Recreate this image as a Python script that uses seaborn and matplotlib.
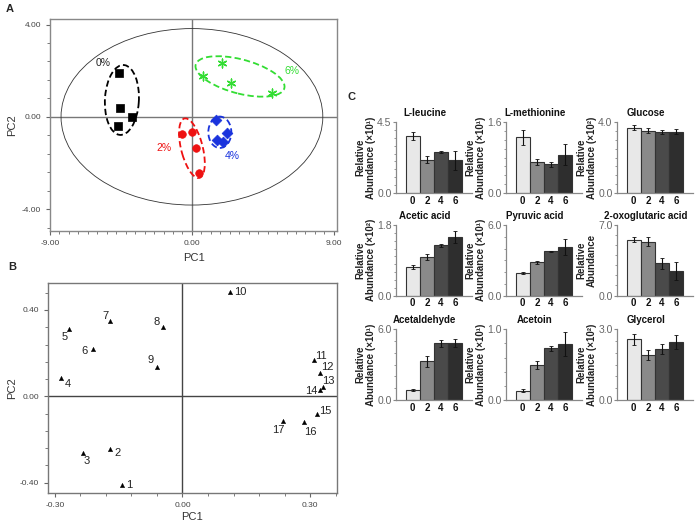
import numpy as np
import pandas as pd
import matplotlib
matplotlib.use('Agg')
import matplotlib.pyplot as plt
import seaborn as sns
from matplotlib.patches import Ellipse
from matplotlib.ticker import FixedLocator, MultipleLocator

# ---------------- Panel A data (PCA scores) ----------------
a_groups = ['0%', '2%', '4%', '6%']
a_group = ['0%'] * 4 + ['2%'] * 4 + ['4%'] * 4 + ['6%'] * 4
a_pc1 = [-4.65, -4.59, -3.80, -4.71,
         -0.62, -0.02, 0.27, 0.45,
         1.55, 2.20, 1.60, 2.00,
         0.70, 1.93, 2.50, 5.08]
a_pc2 = [1.91, 0.37, 0.00, -0.40,
         -0.75, -0.66, -1.37, -2.43,
         -0.15, -0.72, -1.00, -1.10,
         1.79, 2.35, 1.47, 1.03]
a_colors = {'0%': '#000000', '2%': '#ee1111', '4%': '#1a33dd', '6%': '#33dd33'}

# ---------------- Panel B data (loadings) ----------------
b_labels = [str(i) for i in range(1, 18)]
b_pc1 = [-0.141, -0.170, -0.234, -0.285, -0.267, -0.211, -0.170, -0.046, -0.060,
         0.112, 0.308, 0.322, 0.330, 0.322, 0.316, 0.286, 0.235]
b_pc2 = [-0.409, -0.242, -0.262, 0.083, 0.312, 0.219, 0.351, 0.321, 0.134,
         0.482, 0.167, 0.108, 0.044, 0.031, -0.082, -0.120, -0.116]

# ---------------- Panel C data (bar charts) ----------------
conc = ['0', '2', '4', '6']
metabolites = ['L-leucine', 'L-methionine', 'Glucose',
               'Acetic acid', 'Pyruvic acid', '2-oxoglutaric acid',
               'Acetaldehyde', 'Acetoin', 'Glycerol']
y_max = [4.5, 1.6, 4.0, 1.8, 6.0, 7.0, 6.0, 1.0, 3.0]
exponents = ['¹', '¹', '²', '²', '¹', '', '¹', '¹', '²']
leucine = [3.62, 2.12, 2.59, 2.08]
leucine_err = [0.28, 0.22, 0.05, 0.60]
methionine = [1.26, 0.70, 0.65, 0.86]
methionine_err = [0.17, 0.06, 0.06, 0.24]
glucose = [3.70, 3.53, 3.44, 3.46]
glucose_err = [0.15, 0.15, 0.10, 0.15]
acetic = [0.73, 0.98, 1.28, 1.49]
acetic_err = [0.05, 0.07, 0.04, 0.15]
pyruvic = [1.92, 2.82, 3.75, 4.11]
pyruvic_err = [0.05, 0.15, 0.05, 0.70]
oxoglutaric = [5.52, 5.36, 3.22, 2.47]
oxoglutaric_err = [0.25, 0.45, 0.55, 0.90]
acetaldehyde = [0.85, 3.26, 4.81, 4.81]
acetaldehyde_err = [0.08, 0.45, 0.30, 0.35]
acetoin = [0.13, 0.49, 0.73, 0.79]
acetoin_err = [0.02, 0.06, 0.04, 0.17]
glycerol = [2.57, 1.91, 2.16, 2.47]
glycerol_err = [0.22, 0.20, 0.20, 0.30]
c_values = [leucine, methionine, glucose, acetic, pyruvic, oxoglutaric,
            acetaldehyde, acetoin, glycerol]
c_errors = [leucine_err, methionine_err, glucose_err, acetic_err, pyruvic_err,
            oxoglutaric_err, acetaldehyde_err, acetoin_err, glycerol_err]
bar_colors = ['#e8e8e8', '#8a8a8a', '#4a4a4a', '#2e2e2e']

# ---------------- Figure ----------------
sns.set_style('white')
plt.rcParams['font.family'] = ['Liberation Sans', 'DejaVu Sans']
W, H = 697, 523
fig = plt.figure(figsize=(W / 100, H / 100), dpi=100)


def px_axes(x0, y0, x1, y1):
    return fig.add_axes([x0 / W, 1 - y1 / H, (x1 - x0) / W, (y1 - y0) / H])


tick_gray = '#444444'

# ===== Panel A =====
axA = px_axes(50, 19, 337, 231)
dfA = pd.DataFrame({'PC1': a_pc1, 'PC2': a_pc2, 'group': a_group})
axA.axhline(0, color='#777777', lw=1.0, zorder=0)
axA.axvline(0, color='#777777', lw=1.0, zorder=0)
axA.add_patch(Ellipse((0, 0), 16.6, 7.65, fill=False, edgecolor='#333333', lw=0.6))
markers = {'0%': 's', '2%': 'o', '4%': 'D'}
for g in ['0%', '2%', '4%']:
    sub = dfA[dfA.group == g]
    sns.scatterplot(data=sub, x='PC1', y='PC2', ax=axA, marker=markers[g],
                    color=a_colors[g], s=30, edgecolor=a_colors[g], linewidth=0.5,
                    zorder=3, legend=False)
sub = dfA[dfA.group == '6%']
axA.scatter(sub.PC1, sub.PC2, marker=(6, 2, 0), s=40, color=a_colors['6%'],
            linewidths=1.0, zorder=3)
ellipses = {'0%': ((-4.44, 0.73), 3.04, 2.15, 83.8),
            '2%': ((0.0, -1.36), 2.76, 1.32, -66.6),
            '4%': ((1.77, -0.67), 1.46, 1.36, 0.0),
            '6%': ((3.05, 1.75), 5.72, 1.50, -9.5)}
for g, (c, w, h, ang) in ellipses.items():
    axA.add_patch(Ellipse(c, w, h, angle=ang, fill=False, edgecolor=a_colors[g],
                          lw=1.3, ls=(0, (3.5, 1.8))))
label_pos = {'0%': (-5.6, 2.35), '2%': (-1.74, -1.35), '4%': (2.57, -1.70), '6%': (6.35, 1.98)}
for g, (x, y) in label_pos.items():
    axA.text(x, y, g, color='#222222' if g == '0%' else a_colors[g], fontsize=7.5,
             ha='center', va='center')
axA.set_xlim(-9, 9.2)
axA.set_ylim(-4.95, 4.24)
axA.xaxis.set_major_locator(FixedLocator([-9, 0, 9]))
axA.yaxis.set_major_locator(FixedLocator([-4, 0, 4]))
axA.xaxis.set_minor_locator(MultipleLocator(0.6))
axA.yaxis.set_minor_locator(MultipleLocator(0.8))
axA.xaxis.set_major_formatter(matplotlib.ticker.FormatStrFormatter('%.2f'))
axA.yaxis.set_major_formatter(matplotlib.ticker.FormatStrFormatter('%.2f'))
axA.tick_params(which='both', direction='out', colors='#666666', labelcolor=tick_gray,
                labelsize=6, bottom=True, left=True)
axA.tick_params(which='major', length=3)
axA.tick_params(which='minor', length=2)
axA.set_xlabel('PC1', fontsize=8, color='#333333', labelpad=4)
axA.set_ylabel('PC2', fontsize=8, color='#333333', labelpad=3)
for s in axA.spines.values():
    s.set_color('#888888')
    s.set_linewidth(1.0)

# ===== Panel B =====
axB = px_axes(48, 283, 337, 493)
dfB = pd.DataFrame({'PC1': b_pc1, 'PC2': b_pc2, 'label': b_labels})
axB.axhline(0, color='#444444', lw=1.0, zorder=0)
axB.axvline(0, color='#444444', lw=1.0, zorder=0)
sns.scatterplot(data=dfB, x='PC1', y='PC2', ax=axB, marker='^', color='black',
                s=10, edgecolor='black', linewidth=0.3, legend=False, zorder=3)
# label offsets in pixels (dx right, dy up)
offsets = {'1': (6.5, 0), '2': (7, -4.3), '3': (4, -7.7), '4': (6.5, -5.6),
           '5': (-3.7, -8), '6': (-8.2, -1.7), '7': (-5, 4.3), '8': (-6.5, 5),
           '9': (-6.2, 7.7), '10': (9.7, 0), '11': (7.7, 4.7), '12': (8, 6),
           '13': (5.6, 5.6), '14': (-8, -1.7), '15': (8, 3.3), '16': (6, -9.4),
           '17': (-4.6, -9)}
for lab, x, y in zip(b_labels, b_pc1, b_pc2):
    dx, dy = offsets[lab]
    axB.annotate(lab, (x, y), xytext=(dx, dy), textcoords='offset pixels',
                 fontsize=8, color='#222222', ha='center', va='center')
axB.set_xlim(-0.316, 0.363)
axB.set_ylim(-0.448, 0.525)
axB.xaxis.set_major_locator(FixedLocator([-0.3, 0, 0.3]))
axB.yaxis.set_major_locator(FixedLocator([-0.4, 0, 0.4]))
axB.xaxis.set_minor_locator(MultipleLocator(0.06))
axB.yaxis.set_minor_locator(MultipleLocator(0.08))
axB.xaxis.set_major_formatter(matplotlib.ticker.FormatStrFormatter('%.2f'))
axB.yaxis.set_major_formatter(matplotlib.ticker.FormatStrFormatter('%.2f'))
axB.tick_params(which='both', direction='out', colors='#666666', labelcolor=tick_gray,
                labelsize=6, bottom=True, left=True)
axB.tick_params(which='major', length=3)
axB.tick_params(which='minor', length=2)
axB.set_xlabel('PC1', fontsize=8, color='#333333', labelpad=2)
axB.set_ylabel('PC2', fontsize=8, color='#333333', labelpad=2)
for s in axB.spines.values():
    s.set_color('#777777')
    s.set_linewidth(1.0)

# ===== Panel C =====
col_left = [395.7, 505.7, 616.7]
row_top = [122.3, 225.0, 329.3]
ax_w, ax_h = 76, 70.5
minor_steps = [0.5, 0.2, 0.5, 0.2, 1.0, 1.0, 1.0, 0.2, 0.5]
for i, name in enumerate(metabolites):
    r, c = divmod(i, 3)
    x0, y0 = col_left[c], row_top[r]
    ax = px_axes(x0, y0, x0 + ax_w, y0 + ax_h)
    dfc = pd.DataFrame({'conc': conc, 'val': c_values[i]})
    sns.barplot(data=dfc, x='conc', y='val', hue='conc', palette=bar_colors,
                order=conc, hue_order=conc, width=1.0, errorbar=None, legend=False,
                edgecolor='#333333', linewidth=0.8, ax=ax)
    ax.errorbar(np.arange(4), c_values[i], yerr=c_errors[i], fmt='none',
                ecolor='#111111', elinewidth=0.8, capsize=1.2, capthick=0.6, zorder=5)
    ax.set_xlim(-1.2, 4.16)
    ax.set_ylim(0, y_max[i])
    ax.yaxis.set_major_locator(FixedLocator([0, y_max[i]]))
    ax.yaxis.set_minor_locator(MultipleLocator(minor_steps[i]))
    ax.yaxis.set_major_formatter(matplotlib.ticker.FormatStrFormatter('%.1f'))
    ax.tick_params(axis='y', which='both', direction='out', colors='#888888',
                   labelcolor='#666666', labelsize=7.5, left=True, pad=1)
    ax.tick_params(axis='y', which='major', length=2)
    ax.tick_params(axis='y', which='minor', length=1.5)
    ax.tick_params(axis='x', length=0, labelsize=7, pad=2, labelcolor='#111111')
    for lbl in ax.get_xticklabels():
        lbl.set_fontweight('bold')
    for side in ['top', 'right']:
        ax.spines[side].set_visible(False)
    for side in ['left', 'bottom']:
        ax.spines[side].set_color('#888888')
        ax.spines[side].set_linewidth(0.9)
    ax.set_xlabel('')
    ylab = 'Relative\nAbundance' + (f' (×10{exponents[i]})' if exponents[i] else '')
    ax.set_ylabel(ylab, fontsize=7, fontweight='bold', color='#222222',
                  labelpad=1, linespacing=1.0)
    ax.text(0.38, 1.0 + 9 / ax_h, name, transform=ax.transAxes, ha='center',
            va='center', fontsize=7, fontweight='bold', color='#111111')

# panel letters
fig.text(6 / W, 1 - 9 / H, 'A', fontsize=8, fontweight='bold', va='center', ha='left')
fig.text(8 / W, 1 - 267 / H, 'B', fontsize=8, fontweight='bold', va='center', ha='left')
fig.text(347 / W, 1 - 97 / H, 'C', fontsize=8, fontweight='bold', va='center', ha='left')

fig.savefig('out.png', dpi=100)
